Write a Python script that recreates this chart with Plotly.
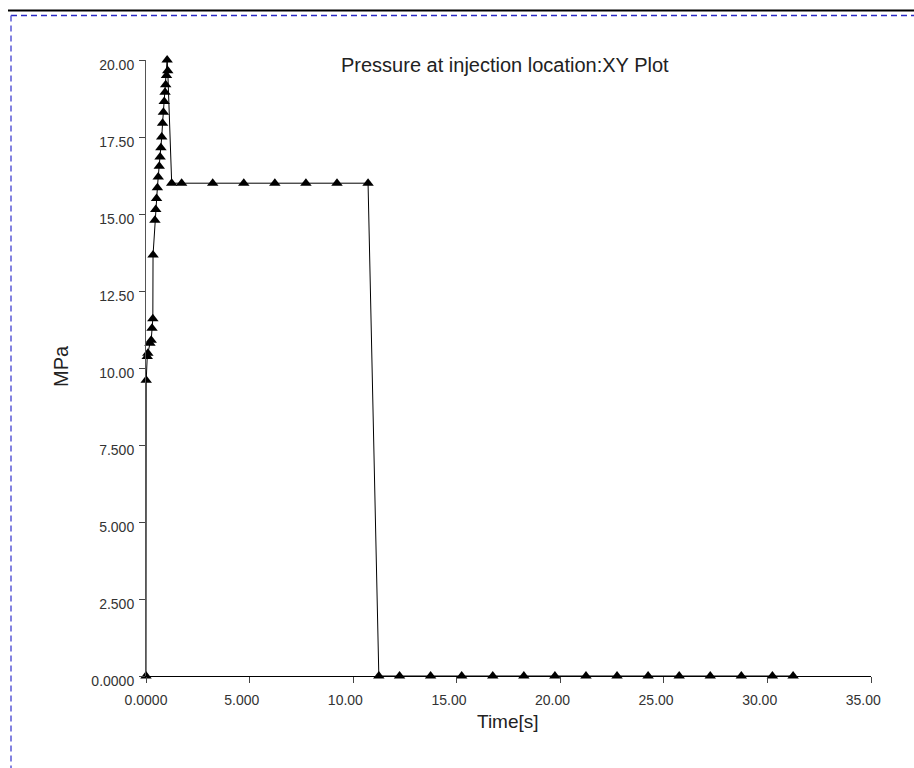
import plotly.graph_objects as go

# ---- data ----
time_s = [0.0, 0.01, 0.06, 0.09, 0.19, 0.25, 0.29, 0.33, 0.34,
          0.43, 0.47, 0.51, 0.55, 0.59, 0.64, 0.68, 0.72, 0.76, 0.80,
          0.84, 0.88, 0.92, 0.95, 0.99, 1.02, 1.05,
          1.24, 1.72, 3.22, 4.72, 6.22, 7.72, 9.22, 10.72,
          11.24, 12.24, 13.74, 15.24, 16.74, 18.24, 19.74, 21.24,
          22.74, 24.24, 25.74, 27.24, 28.74, 30.24, 31.24]
pressure_mpa = [0.0, 9.6, 10.37, 10.48, 10.8, 10.9, 11.29, 11.6, 13.67,
                14.8, 15.15, 15.5, 15.85, 16.2, 16.55, 16.85, 17.15, 17.5, 17.95,
                18.3, 18.65, 18.95, 19.2, 19.5, 20.0, 19.65,
                16.0, 16.0, 16.0, 16.0, 16.0, 16.0, 16.0, 16.0,
                0.0, 0.0, 0.0, 0.0, 0.0, 0.0, 0.0, 0.0,
                0.0, 0.0, 0.0, 0.0, 0.0, 0.0, 0.0]

x_tickvals = [0, 5, 10, 15, 20, 25, 30, 35]
x_ticktext = ["0.0000", "5.000", "10.00", "15.00", "20.00", "25.00", "30.00", "35.00"]
y_tickvals = [0, 2.5, 5, 7.5, 10, 12.5, 15, 17.5, 20]
y_ticktext = ["0.0000", "2.500", "5.000", "7.500", "10.00", "12.50", "15.00", "17.50", "20.00"]

title_text = "Pressure at injection location:XY Plot"
x_title = "Time[s]"
y_title = "MPa"

# ---- layout geometry ----
W, H = 914, 768
L, R, T, B = 146, 43, 60, 92
pw, ph = W - L - R, H - T - B


def px_x(px):
    return (px - L) / pw


def px_y(py):
    return (H - B - py) / ph


FONT = "Liberation Sans, Arial, sans-serif"
PAD = "\u00a0" * 4  # reference labels (except the origin) sit left of their tick

fig = go.Figure()
fig.add_trace(go.Scatter(
    x=time_s, y=pressure_mpa, mode="lines+markers",
    line=dict(color="black", width=1),
    marker=dict(symbol="triangle-up", size=10, color="black"),
    showlegend=False, cliponaxis=False,
))

fig.update_layout(
    width=W, height=H,
    margin=dict(l=L, r=R, t=T, b=B, pad=0),
    paper_bgcolor="white", plot_bgcolor="white",
    font=dict(family=FONT, color="#333333"),
    xaxis=dict(
        range=[0, 35], tickvals=x_tickvals,
        ticktext=[x_ticktext[0]] + [t + PAD for t in x_ticktext[1:]],
        showgrid=False, zeroline=False, showline=True, linecolor="black", linewidth=1,
        ticks="outside", ticklen=6, tickcolor="#444444",
        ticklabelstandoff=5,
        tickfont=dict(size=14, family=FONT, color="#333333"),
    ),
    yaxis=dict(
        range=[0, 20], tickvals=y_tickvals, ticktext=y_ticktext,
        showgrid=False, zeroline=False, showline=True, linecolor="#555555", linewidth=1,
        ticks="outside", ticklen=6, tickcolor="#444444",
        ticklabelshift=5, ticklabelstandoff=2,
        tickfont=dict(size=14, family=FONT, color="#333333"),
    ),
    shapes=[
        dict(type="line", xref="paper", yref="paper",
             x0=px_x(8), x1=px_x(920), y0=px_y(10.5), y1=px_y(10.5),
             line=dict(color="black", width=2)),
        dict(type="line", xref="paper", yref="paper",
             x0=px_x(11), x1=px_x(920), y0=px_y(15.5), y1=px_y(15.5),
             line=dict(color="#2a2ac4", width=1.5, dash="6px,4px")),
        dict(type="line", xref="paper", yref="paper",
             x0=px_x(11), x1=px_x(11), y0=px_y(15.5), y1=px_y(780),
             line=dict(color="#5a5ad6", width=1.5, dash="6px,4px")),
    ],
    annotations=[
        dict(text=title_text, xref="paper", yref="paper",
             x=px_x(505), y=px_y(65), xanchor="center", yanchor="middle",
             showarrow=False, font=dict(size=20, family=FONT, color="#222222")),
        dict(text=x_title, xref="paper", yref="paper",
             x=px_x(508), y=px_y(721), xanchor="center", yanchor="middle",
             showarrow=False, font=dict(size=19, family=FONT, color="#222222")),
        dict(text=y_title, xref="paper", yref="paper",
             x=px_x(61), y=px_y(366), xanchor="center", yanchor="middle",
             textangle=-90, showarrow=False,
             font=dict(size=20, family=FONT, color="#222222")),
    ],
)

fig.write_html("out.html")
